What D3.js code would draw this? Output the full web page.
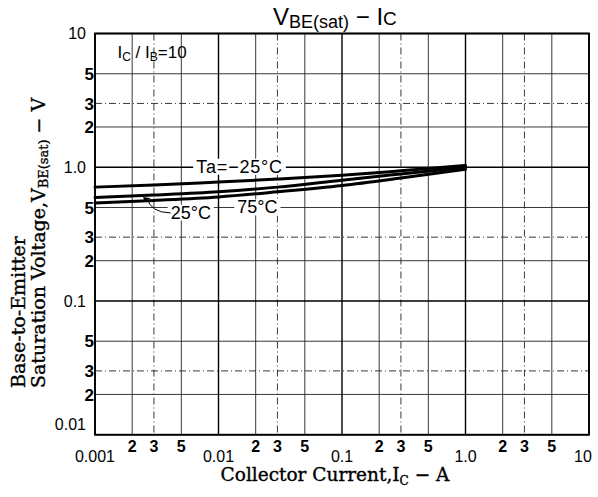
<!DOCTYPE html>
<html><head><meta charset="utf-8">
<script src="https://cdn.jsdelivr.net/npm/d3@7"></script>
<style>body{margin:0;background:#fff}svg{display:block}</style>
</head><body>
<svg id="c" width="598" height="497"></svg>
<script>
// ---- data ----
const currents   = [0.001, 0.003, 0.01, 0.03, 0.1, 0.3, 1.0];      // Ic (A)
const vbeMinus25 = [0.71, 0.735, 0.775, 0.815, 0.87, 0.94, 1.03];   // Ta = -25°C
const vbe25      = [0.595, 0.62, 0.655, 0.71, 0.80, 0.89, 1.0];     // Ta = 25°C
const vbe75      = [0.54, 0.565, 0.60, 0.655, 0.73, 0.83, 0.965];   // Ta = 75°C
const seriesNames = ["Ta=−25°C", "25°C", "75°C"];

const xDecadeTicks  = [0.001, 0.01, 0.1, 1, 10];
const xDecadeLabels = ["0.001", "0.01", "0.1", "1.0", "10"];
const yDecadeTicks  = [0.01, 0.1, 1, 10];
const yDecadeLabels = ["0.01", "0.1", "1.0", "10"];
const minorMultipliers = [2, 3, 5];
const minorLabels = ["2", "3", "5"];

// ---- layout ----
const svg = d3.select("#c");
const M = {left: 95, right: 589, top: 33.5, bottom: 434.7};
const x = d3.scaleLog().domain([0.001, 10]).range([M.left, M.right]);
const y = d3.scaleLog().domain([0.01, 10]).range([M.bottom, M.top]);

const sans = "'Liberation Sans', Arial, Helvetica, sans-serif";
const serif = "'DejaVu Serif', 'Liberation Serif', serif";

const xMinor = [], yMinor = [];
xDecadeTicks.slice(0, -1).forEach(d => minorMultipliers.forEach((m, i) => xMinor.push({v: d * m, label: minorLabels[i], m})));
yDecadeTicks.slice(0, -1).forEach(d => minorMultipliers.forEach((m, i) => yMinor.push({v: d * m, label: minorLabels[i], m})));

// ---- grid ----
const grid = svg.append("g");
grid.selectAll(".vx").data(xMinor).join("line")
  .attr("x1", d => x(d.v)).attr("x2", d => x(d.v)).attr("y1", M.top).attr("y2", M.bottom)
  .attr("stroke", "#222").attr("stroke-width", 0.9)
  .attr("stroke-dasharray", d => d.m === 3 ? "7,3,1,3" : null);
grid.selectAll(".hy").data(yMinor).join("line")
  .attr("y1", d => y(d.v)).attr("y2", d => y(d.v)).attr("x1", M.left).attr("x2", M.right)
  .attr("stroke", "#222").attr("stroke-width", 0.9)
  .attr("stroke-dasharray", d => d.m === 3 ? "7,3,1,3" : null);
grid.selectAll(".vX").data(xDecadeTicks).join("line")
  .attr("x1", d => x(d)).attr("x2", d => x(d)).attr("y1", M.top).attr("y2", M.bottom)
  .attr("stroke", "#000").attr("stroke-width", 1.4);
grid.selectAll(".hY").data(yDecadeTicks).join("line")
  .attr("y1", d => y(d)).attr("y2", d => y(d)).attr("x1", M.left).attr("x2", M.right)
  .attr("stroke", "#000").attr("stroke-width", 1.4);
// frame
svg.append("rect").attr("x", M.left).attr("y", M.top)
  .attr("width", M.right - M.left).attr("height", M.bottom - M.top)
  .attr("fill", "none").attr("stroke", "#000").attr("stroke-width", 1.8);

// ---- annotation label backgrounds + labels ----
function label(g, text, I, V, size, ls) {
  const t = g.append("text").attr("x", x(I)).attr("y", y(V))
    .attr("font-family", sans).attr("font-size", size).attr("letter-spacing", ls || 0)
    .attr("fill", "#000").text(text);
  const b = t.node().getBBox();
  g.insert("rect", "text").attr("x", b.x - 3).attr("y", b.y + 2)
    .attr("width", b.width + 6).attr("height", b.height - 4).attr("fill", "#fff");
  return t;
}
const ann = svg.append("g");
label(ann.append("g"), seriesNames[0], 0.0066, 0.91, 18, 0.8);
label(ann.append("g"), seriesNames[1], 0.0041, 0.413, 18, 0);
label(ann.append("g"), seriesNames[2], 0.0142, 0.451, 18, 0);

// Ic / IB = 10
const ic = svg.append("text").attr("x", x(0.00152)).attr("y", y(6.6))
  .attr("font-family", sans).attr("font-size", 17);
ic.append("tspan").text("I");
ic.append("tspan").attr("font-size", 12).attr("dy", 3).text("C");
ic.append("tspan").attr("dy", -3).text(" / I");
ic.append("tspan").attr("font-size", 12).attr("dy", 3).text("B");
ic.append("tspan").attr("dy", -3).text("=10");

// ---- curves ----
const line = d3.line().x(d => x(d[0])).y(d => y(d[1])).curve(d3.curveMonotoneX);
[vbeMinus25, vbe25, vbe75].forEach(s => {
  svg.append("path").attr("d", line(currents.map((c, i) => [c, s[i]])))
    .attr("fill", "none").attr("stroke", "#000").attr("stroke-width", 3)
    .attr("stroke-linecap", "round");
});

// leader for 25°C
const lp = d3.path();
lp.moveTo(x(0.0041), y(0.455));
lp.quadraticCurveTo(x(0.0028), y(0.46), x(0.00265), y(0.585));
svg.append("path").attr("d", lp.toString()).attr("fill", "none").attr("stroke", "#000").attr("stroke-width", 1);
const ah = d3.path();
ah.moveTo(x(0.00245), y(0.6)); ah.lineTo(x(0.00285), y(0.585)); ah.lineTo(x(0.0025), y(0.565)); ah.closePath();
svg.append("path").attr("d", ah.toString()).attr("fill", "#000");

// ---- tick labels ----
svg.selectAll(".xl").data(xDecadeTicks).join("text")
  .attr("x", d => x(d) - (d === 10 ? 6 : 0)).attr("y", 462).attr("text-anchor", "middle")
  .attr("font-family", sans).attr("font-size", 16).text((d, i) => xDecadeLabels[i]);
svg.selectAll(".xm").data(xMinor).join("text")
  .attr("x", d => x(d.v)).attr("y", 452).attr("text-anchor", "middle")
  .attr("font-family", sans).attr("font-size", 16).attr("font-weight", "bold").text(d => d.label);
svg.selectAll(".yl").data(yDecadeTicks).join("text")
  .attr("x", 86).attr("y", d => y(d) + (d === 0.01 ? -10 : 0)).attr("dy", "0.36em").attr("text-anchor", "end")
  .attr("font-family", sans).attr("font-size", 16).text((d, i) => yDecadeLabels[i]);
svg.selectAll(".ym").data(yMinor).join("text")
  .attr("x", 94).attr("y", d => y(d.v)).attr("dy", "0.36em").attr("text-anchor", "end")
  .attr("font-family", sans).attr("font-size", 17).attr("font-weight", "bold").text(d => d.label);

// ---- title ----
const title = svg.append("text").attr("x", 273).attr("y", 25)
  .attr("font-family", sans).attr("font-size", 24);
title.append("tspan").text("V");
title.append("tspan").attr("font-size", 18).attr("dy", 3).text("BE(sat)");
title.append("tspan").attr("dy", -3).text("  −  I");
title.append("tspan").attr("font-size", 19).text("C");

// ---- axis titles ----
const xt = svg.append("text").attr("x", 335).attr("y", 481).attr("text-anchor", "middle")
  .attr("font-family", serif).attr("font-size", 18.5)
  .attr("stroke", "#000").attr("stroke-width", 0.35);
xt.append("tspan").text("Collector Current,I");
xt.append("tspan").attr("font-size", 12).attr("dy", 4).text("C");
xt.append("tspan").attr("dy", -4).text(" − A");

const yt = svg.append("g").attr("transform", "translate(0,388) rotate(-90)")
  .attr("stroke", "#000").attr("stroke-width", 0.35);
yt.append("text").attr("x", 0).attr("y", 25).attr("font-family", serif).attr("font-size", 19)
  .text("Base-to-Emitter");
const yt2 = yt.append("text").attr("x", 0).attr("y", 45).attr("font-family", serif).attr("font-size", 19);
yt2.append("tspan").text("Saturation Voltage,V");
yt2.append("tspan").attr("font-size", 13).attr("dy", 3).text("BE(sat)");
yt2.append("tspan").attr("dy", -3).text(" − V");
</script>
</body></html>
